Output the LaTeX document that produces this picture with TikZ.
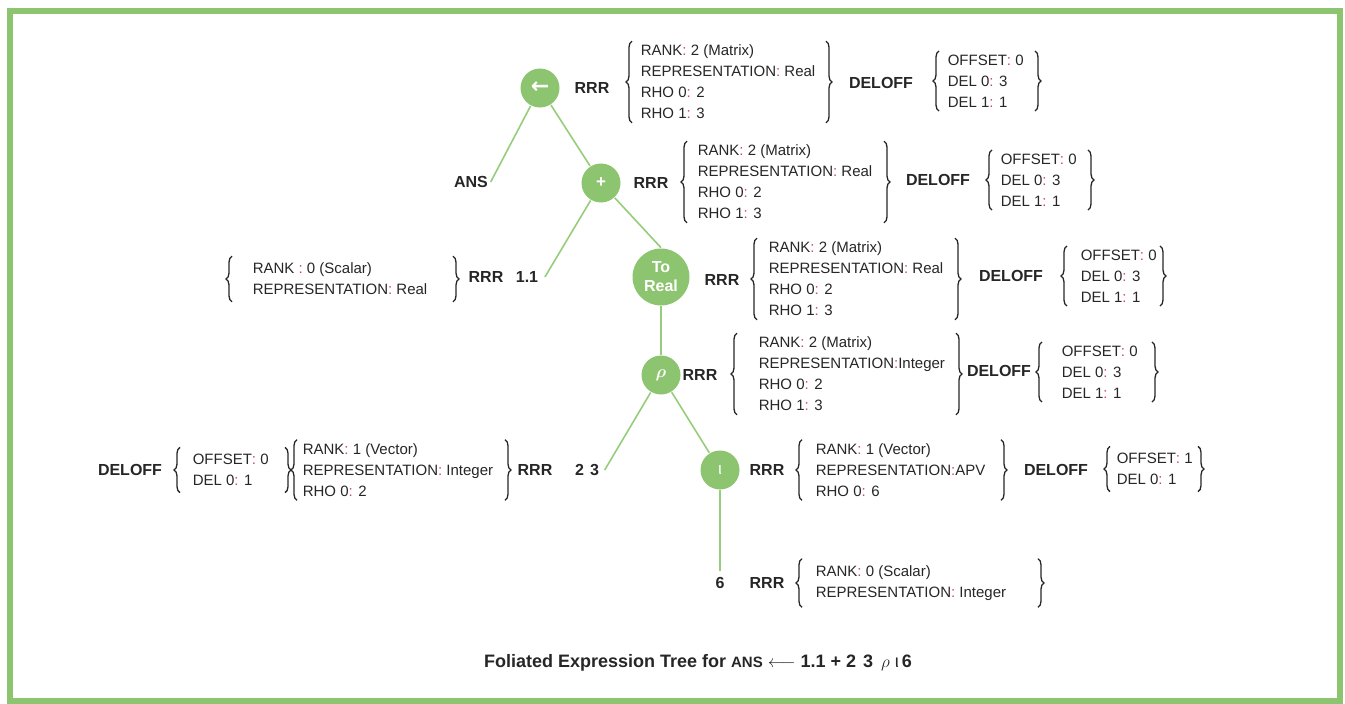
\documentclass[tikz,border=0pt]{standalone}
\usepackage{amsmath}
\usepackage{fontspec}
\setmainfont{Liberation Sans}
\newfontfamily\arrowfont{DejaVu Sans}
\usepackage{tikz}
\usetikzlibrary{positioning,decorations.pathreplacing}

\definecolor{leaf}{RGB}{141,196,112}
\definecolor{twig}{RGB}{150,205,122}
\definecolor{ink}{RGB}{38,38,38}
\definecolor{colon}{RGB}{205,70,100}

\newcommand{\cl}{{\color{colon}:}}
\newcommand{\realmat}{RANK\cl{} 2 (Matrix)\\REPRESENTATION\cl{} Real\\RHO 0\cl{} 2\\RHO 1\cl{} 3}
\newcommand{\deltwo}{OFFSET\cl{} 0\\DEL 0\cl{} 3\\DEL 1\cl{} 1}
% a pair of braces round a node: node, x of the opening and of the closing brace
\newcommand{\bracepair}[3]{%
    \draw[curly] (#2,0 |- #1.south) -- (#2,0 |- #1.north);
    \draw[curly] (#3,0 |- #1.north) -- (#3,0 |- #1.south);}

\begin{document}
\begin{tikzpicture}[x=1pt,y=-1pt,
    every node/.append style={ink},
    every path/.append style={twig,line width=1.6pt},
    op/.style={circle,fill=leaf,minimum size=39pt,inner sep=0pt,text=white,
        font=\bfseries\fontsize{17}{17}\selectfont},
    tag/.style={inner sep=2pt,font=\bfseries\fontsize{16}{18}\selectfont},
    facts/.style={anchor=west,align=left,inner xsep=0pt,inner ysep=3pt,
        font=\fontsize{15}{21}\selectfont},
    short/.style={inner ysep=6pt},
    curly/.style={ink,line width=1.3pt,decorate,decoration={brace,amplitude=6pt}}
]
    \useasboundingbox (0,0) rectangle (1345,704);
    \draw[leaf,line width=6pt] (10,11) rectangle (1340,701);

    % operators
    \node[op,font=\arrowfont\bfseries\fontsize{22}{22}\selectfont] (assign) at (540,88) {←};
    \node[op] (plus)   at (601,183) {+};
    \node[op,minimum size=57pt,align=center,font=\bfseries\fontsize{16}{19}\selectfont]
        (toreal) at (661,277) {To\\Real};
    \node[op] (rho)    at (661,375) {$\boldsymbol{\rho}$};
    \node[op,font=\fontsize{17}{17}\selectfont] (iota) at (720,470) {ι};

    % leaves
    \node[tag]               (ans)      at (471,182) {ANS};
    \node[tag,inner sep=6pt] (onept)    at (527,277) {1.1};
    \node[tag,inner sep=5pt] (twothree) at (587,470) {2\hspace{6pt}3};
    \node[tag,inner sep=6pt] (six)      at (720,583) {6};

    \draw (assign) -- (ans.east);
    \draw (assign) -- (plus);
    \draw (plus)   -- (onept.east);
    \draw (plus)   -- (toreal.north);
    \draw (toreal) -- (rho);
    \draw (rho)    -- (twothree.east);
    \draw (rho)    -- (iota);
    \draw (iota)   -- (six.north);

    % attributes of the assignment
    \node[tag]   (rrrA) at (592,88) {RRR};
    \node[facts] (attrA) at (640,82) {\realmat};
    \bracepair{attrA}{632}{826}
    \node[tag]   (delA) at (881,83) {DELOFF};
    \node[facts] (offA) at (947,81) {\deltwo};
    \bracepair{offA}{939}{1035}

    % attributes of +
    \node[tag]   (rrrB) at (651,183) {RRR};
    \node[facts] (attrB) at (697,182) {\realmat};
    \bracepair{attrB}{687}{884}
    \node[tag]   (delB) at (938,180) {DELOFF};
    \node[facts] (offB) at (1000,180) {\deltwo};
    \bracepair{offB}{992}{1088}

    % attributes of To Real
    \node[tag]   (rrrC) at (722,280) {RRR};
    \node[facts] (attrC) at (768,279) {\realmat};
    \bracepair{attrC}{757}{955}
    \node[tag]   (delC) at (1011,276) {DELOFF};
    \node[facts] (offC) at (1080,276) {\deltwo};
    \bracepair{offC}{1067}{1160}

    % attributes of 1.1
    \node[facts,short] (attrD) at (252,279) {RANK \cl{} 0 (Scalar)\\REPRESENTATION\cl{} Real};
    \bracepair{attrD}{232}{453}
    \node[tag]   (rrrD) at (486,277) {RRR};

    % attributes of rho
    \node[tag]   (rrrE) at (700,375) {RRR};
    \node[facts] (attrE) at (758,374) {RANK\cl{} 2 (Matrix)\\REPRESENTATION\cl{}Integer\\RHO 0\cl{} 2\\RHO 1\cl{} 3};
    \bracepair{attrE}{737}{956}
    \node[tag]   (delE) at (999,371) {DELOFF};
    \node[facts] (offE) at (1061,372) {\deltwo};
    \bracepair{offE}{1042}{1152}

    % attributes of iota
    \node[tag]   (rrrF) at (767,470) {RRR};
    \node[facts] (attrF) at (815,470) {RANK\cl{} 1 (Vector)\\REPRESENTATION\cl{}APV\\RHO 0\cl{} 6};
    \bracepair{attrF}{802}{1001}
    \node[tag]   (delF) at (1056,470) {DELOFF};
    \node[facts,short] (offF) at (1116,469) {OFFSET\cl{} 1\\DEL 0\cl{} 1};
    \bracepair{offF}{1110}{1198}

    % attributes of 2 3
    \node[tag]   (delG) at (130,470) {DELOFF};
    \node[facts,short] (offG) at (192,470) {OFFSET\cl{} 0\\DEL 0\cl{} 1};
    \bracepair{offG}{180}{285}
    \node[facts] (attrG) at (302,470) {RANK\cl{} 1 (Vector)\\REPRESENTATION\cl{} Integer\\RHO 0\cl{} 2};
    \bracepair{attrG}{297}{505}
    \node[tag]   (rrrG) at (535,470) {RRR};

    % attributes of 6
    \node[tag]   (rrrH) at (767,583) {RRR};
    \node[facts,short] (attrH) at (815,583) {RANK\cl{} 0 (Scalar)\\REPRESENTATION\cl{} Integer};
    \bracepair{attrH}{802}{1038}

    \node[tag,font=\bfseries\fontsize{18}{20}\selectfont] (caption) at (698,663)
        {Foliated Expression Tree for {\fontsize{15}{16}\selectfont ANS} $\longleftarrow$ 1.1 + 2\hspace{7pt}3\hspace{8pt}$\rho$\hspace{5pt}{\mdseries ι}\,6};
\end{tikzpicture}
\end{document}
